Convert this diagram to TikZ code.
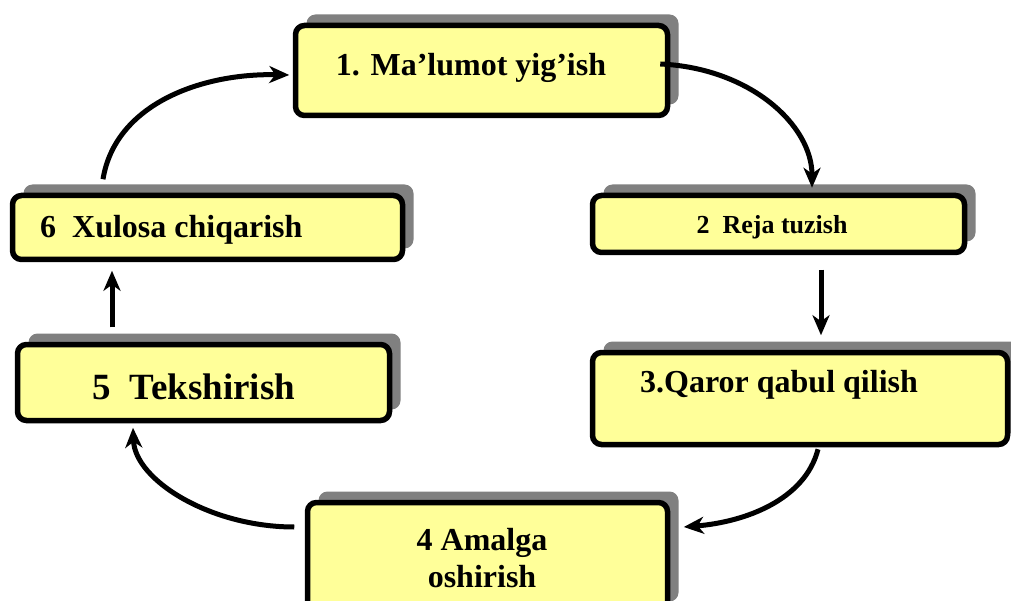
\documentclass[tikz,border=0pt]{standalone}
\usepackage{fontspec}
\setmainfont{Liberation Serif}
\usetikzlibrary{arrows.meta,shadows,calc}
\definecolor{boxyellow}{HTML}{FFFF99}
\definecolor{shadowgray}{HTML}{808080}
\begin{document}
\begin{tikzpicture}[x=1pt,y=-1pt,
  stepbox/.style={draw=black, line width=5.5pt, fill=boxyellow, rounded corners=9pt,
    general shadow={fill=shadowgray, shadow xshift=11pt, shadow yshift=11pt},
    inner sep=0pt},
  boxtext/.style={font=\bfseries\fontsize{32}{37}\selectfont, inner sep=0pt, align=center},
  conn/.style={line width=5pt, -{Stealth[length=20pt,width=17pt,inset=6pt]}}]
\clip (0,0) rectangle (1011,601);
\fill[white] (0,0) rectangle (1011,601);
% boxes
\node[stepbox, minimum width=372pt, minimum height=90pt] (b1) at (481.5,70.5) {};
\node[stepbox, minimum width=372pt, minimum height=57pt] (b2) at (778.5,224) {};
\node[stepbox, minimum width=415pt, minimum height=92pt] (b3) at (800,398.5) {};
\node[stepbox, minimum width=360pt, minimum height=110pt] (b4) at (487.5,557.5) {};
\node[stepbox, minimum width=372pt, minimum height=76pt] (b5) at (203.5,382.5) {};
\node[stepbox, minimum width=390pt, minimum height=64pt] (b6) at (207.5,227.5) {};
% texts
\node[boxtext] (t1) at (471,68) {1. Ma’lumot yig’ish};
\node[boxtext, font=\bfseries\fontsize{26}{30}\selectfont] (t2) at (772,227) {2\ \ Reja tuzish};
\node[boxtext, anchor=west] (t3) at (640,385) {3.Qaror qabul qilish};
\node[boxtext] (t4) at (482,558) {4 Amalga\\oshirish};
\node[boxtext, font=\bfseries\fontsize{37}{42}\selectfont] (t5) at (194,387) {5\ \ Tekshirish};
\node[boxtext, anchor=west] (t6) at (40,230) {6\ \ Xulosa chiqarish};
% connectors
\draw[conn] ([xshift=-10pt,yshift=6.5pt]b1.east) .. controls (750,68) and (812,125) .. ([xshift=33.5pt,yshift=5pt]b2.north);
\draw[conn] ([xshift=42.5pt,yshift=-14.5pt]b2.south) -- ([xshift=21pt,yshift=14.5pt]b3.north);
\draw[conn] ([xshift=18pt,yshift=-2pt]b3.south) .. controls (805,500) and (745,522) .. ([xshift=13.5pt,yshift=30.5pt]b4.east);
\draw[conn] ([xshift=-10.5pt,yshift=30.5pt]b4.west) .. controls (210,527) and (135,480) .. ([xshift=-70.5pt,yshift=-4.5pt]b5.south);
\draw[conn] ([xshift=-91.5pt,yshift=14.5pt]b5.north) -- ([xshift=-95.5pt,yshift=-8.5pt]b6.south);
\draw[conn] ([xshift=-104.5pt,yshift=13.5pt]b6.north) .. controls (115,105) and (200,73) .. ([xshift=-3.5pt,yshift=-4.5pt]b1.west);
\end{tikzpicture}
\end{document}
